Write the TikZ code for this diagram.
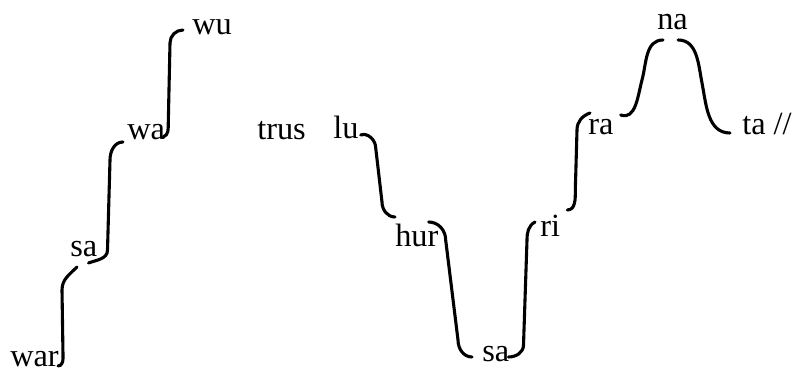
\documentclass[tikz,border=0pt]{standalone}
\usepackage{fontspec}
\setmainfont{Liberation Serif}
\usepackage{tikz}
\usetikzlibrary{calc}

\begin{document}
\begin{tikzpicture}[x=0.025cm, y=0.025cm,
	syl/.style={anchor=base west, inner sep=0pt, font=\fontsize{23}{27}\selectfont},
	glide/.style={line width=2.2pt, line cap=round}]% Pitch contour
	\useasboundingbox (0,0) rectangle (802,379);
	% syllables
	\node[syl] (war) at (10,12) {war};
	\node[syl] (sa1) at (70,122) {sa};
	\node[syl] (wa) at (127,239) {wa};
	\node[syl] (wu) at (192,344) {wu};
	\node[syl] (trus) at (257,239) {trus};
	\node[syl] (lu) at (333,240) {lu};
	\node[syl] (hur) at (395,132) {hur};
	\node[syl] (sa2) at (482,17) {sa};
	\node[syl] (ri) at (540,142) {ri};
	\node[syl] (ra) at (588,244) {ra};
	\node[syl] (na) at (657,349) {na};
	\node[syl] (ta) at (742,244) {ta //};
	% rising glides
	\draw[glide] ($(war.base east)+(-1,1)$) to[out=0,in=-90] ++(5,8)
		-- ($(sa1.base west)+(-8,-33)$) to[out=90,in=225] ($(sa1.base west)+(7,-10)$);
	\draw[glide] ($(sa1.base east)+(-9,-6)$) to[out=20,in=-90] ++(19,13)
		-- ($(wa.base west)+(-17,-20)$) to[out=90,in=180] ($(wa.base west)+(-4,-2)$);
	\draw[glide] ($(wa.base east)+(-2,3)$) to[out=20,in=-90] ++(5,14)
		-- ($(wu.base west)+(-22,-8)$) to[out=90,in=180] ($(wu.base west)+(-9,5)$);
	% falling glides
	\draw[glide] ($(lu.base east)+(2,4)$) to[out=20,in=90] ++(15,-13)
		-- ($(hur.base west)+(-13,45)$) to[out=-90,in=180] ($(hur.base west)+(0,30)$);
	\draw[glide] ($(hur.base east)+(-10,25)$) to[out=0,in=90] ++(17,-18)
		-- ($(sa2.base west)+(-24,22)$) to[out=-90,in=180] ($(sa2.base west)+(-10,5)$);
	% rising again
	\draw[glide] ($(sa2.base east)+(-1,5)$) to[out=0,in=-90] ++(15,12)
		-- ($(ri.base west)+(-13,-3)$) to[out=90,in=210] ($(ri.base west)+(-5,15)$);
	\draw[glide] ($(ri.base east)+(7,27)$) to[out=0,in=-90] ++(8,20)
		-- ($(ra.base west)+(-11,5)$) to[out=90,in=200] ($(ra.base west)+(2,22)$);
	% peak on na
	\draw[glide] ($(ra.base east)+(7,20)$) to[out=-20,in=-105] ($(na.base west)+(-15,-50)$)
		to[out=75,in=180] ($(na.base west)+(6,-10)$);
	\draw[glide] ($(na.base east)+(-10,-10)$) to[out=0,in=101] ($(ta.base west)+(-40,52)$)
		to[out=-79,in=180] ($(ta.base west)+(-12,2)$);
\end{tikzpicture}
\end{document}
